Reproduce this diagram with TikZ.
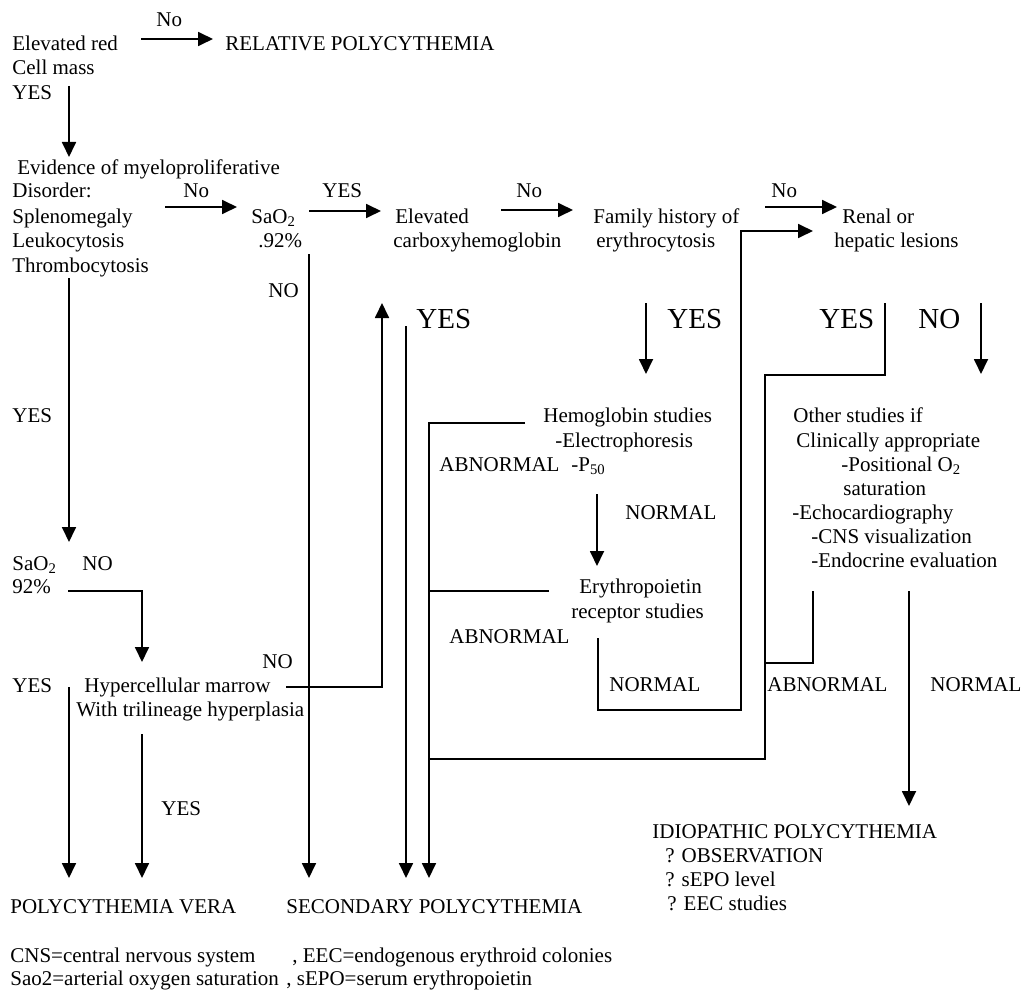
\documentclass[tikz,border=0pt]{standalone}
\usepackage{fontspec}
\setmainfont{Liberation Serif}
\usetikzlibrary{arrows.meta}
\begin{document}
\begin{tikzpicture}[x=0.5pt,y=-0.5pt,
  t/.style={anchor=base west, inner sep=0pt, font=\fontsize{10.5}{12}\selectfont},
  big/.style={anchor=base west, inner sep=0pt, font=\fontsize{14.5}{17}\selectfont},
  ln/.style={line width=0.9pt},
  ar/.style={line width=0.9pt, -{Triangle[length=7.5pt,width=7pt]}}]
\useasboundingbox (0,0) rectangle (1023,990);
% ---------- texts ----------
\node[t] (no1) at (156,27) {No};
\node[t] (erc1) at (12,51) {Elevated red};
\node[t] (erc2) at (12,75) {Cell mass};
\node[t] (yes1) at (12,100) {YES};
\node[t] (rel) at (225,51) {RELATIVE POLYCYTHEMIA};
\node[t] (ev1) at (17,175) {Evidence of myeloproliferative};
\node[t] (ev2) at (12,198) {Disorder:};
\node[t] (ev3) at (12,223) {Splenomegaly};
\node[t] (ev4) at (12,247) {Leukocytosis};
\node[t] (ev5) at (12,272) {Thrombocytosis};
\node[t] (no2) at (183,198) {No};
\node[t] (sa1) at (251,223) {SaO\textsubscript{2}};
\node[t] (sa2) at (258,247) {.92\%};
\node[t] (yes2) at (322,198) {YES};
\node[t] (co1) at (395,223) {Elevated};
\node[t] (co2) at (393,247) {carboxyhemoglobin};
\node[t] (no3) at (516,198) {No};
\node[t] (fh1) at (593,223) {Family history of};
\node[t] (fh2) at (596,247) {erythrocytosis};
\node[t] (no4) at (771,198) {No};
\node[t] (rh1) at (842,223) {Renal or};
\node[t] (rh2) at (834,247) {hepatic lesions};
\node[t] (no5) at (268,297) {NO};
\node[big] (yes3) at (416,328) {YES};
\node[big] (yes4) at (667,328) {YES};
\node[big] (yes5) at (819,328) {YES};
\node[big] (no6) at (918,328) {NO};
\node[t] (yes6) at (12,422) {YES};
\node[t] (hb1) at (543,422) {Hemoglobin studies};
\node[t] (hb2) at (555,447) {-Electrophoresis};
\node[t] (ab1) at (439,471) {ABNORMAL};
\node[t] (hb3) at (571,471) {-P\textsubscript{50}};
\node[t] (nm1) at (625,519) {NORMAL};
\node[t] (ep1) at (579,593) {Erythropoietin};
\node[t] (ep2) at (571,618) {receptor studies};
\node[t] (ab2) at (449,643) {ABNORMAL};
\node[t] (nm2) at (609,691) {NORMAL};
\node[t] (os1) at (793,422) {Other studies if};
\node[t] (os2) at (796,447) {Clinically appropriate};
\node[t] (os3) at (841,471) {-Positional O\textsubscript{2}};
\node[t] (os4) at (843,495) {saturation};
\node[t] (os5) at (792,519) {-Echocardiography};
\node[t] (os6) at (811,543) {-CNS visualization};
\node[t] (os7) at (811,567) {-Endocrine evaluation};
\node[t] (ab3) at (767,691) {ABNORMAL};
\node[t] (nm3) at (930,691) {NORMAL};
\node[t] (sa3) at (12,570) {SaO\textsubscript{2}};
\node[t] (no7) at (82,570) {NO};
\node[t] (sa4) at (12,593) {92\%};
\node[t] (no8) at (262,668) {NO};
\node[t] (yes7) at (12,692) {YES};
\node[t] (hc1) at (84,692) {Hypercellular marrow};
\node[t] (hc2) at (76,716) {With trilineage hyperplasia};
\node[t] (yes8) at (161,815) {YES};
\node[t] (pv) at (10,913) {POLYCYTHEMIA VERA};
\node[t] (sp) at (286,913) {SECONDARY POLYCYTHEMIA};
\node[t] (ip1) at (652,838) {IDIOPATHIC POLYCYTHEMIA};
\node[t] (ip2) at (665,862) {? OBSERVATION};
\node[t] (ip3) at (665,886) {? sEPO level};
\node[t] (ip4) at (667,910) {? EEC studies};
\node[t] (fn1) at (10,962) {CNS=central nervous system};
\node[t] (fn2) at (292,962) {, EEC=endogenous erythroid colonies};
\node[t] (fn3) at (10,985) {Sao2=arterial oxygen saturation};
\node[t] (fn4) at (286,985) {, sEPO=serum erythropoietin};
% ---------- connector points ----------
\coordinate (c1a) at (141,39);  \coordinate (c1b) at (213,39);
\coordinate (c2a) at (69,86);   \coordinate (c2b) at (69,157);
\coordinate (c3a) at (165,207); \coordinate (c3b) at (237,207);
\coordinate (c4a) at (309,211); \coordinate (c4b) at (381,211);
\coordinate (c5a) at (501,210); \coordinate (c5b) at (573,210);
\coordinate (c6a) at (765,207); \coordinate (c6b) at (837,207);
\coordinate (e1) at (598,638); \coordinate (e2) at (598,710);
\coordinate (e3) at (741,710); \coordinate (e4) at (741,231); \coordinate (e5) at (813,231);
\coordinate (f1) at (646,303); \coordinate (f2) at (646,374);
\coordinate (r1) at (885,303); \coordinate (r2) at (885,375);
\coordinate (r3) at (765,375); \coordinate (r4) at (765,759); \coordinate (r5) at (429,759);
\coordinate (o1) at (813,591); \coordinate (o2) at (813,663); \coordinate (o3) at (765,663);
\coordinate (n1) at (981,303); \coordinate (n2) at (981,374);
\coordinate (m1) at (909,591); \coordinate (m2) at (909,806);
\coordinate (h1) at (525,423); \coordinate (h2) at (429,423); \coordinate (h3) at (429,878);
\coordinate (h4) at (549,591); \coordinate (h5) at (429,591);
\coordinate (p1) at (597,494); \coordinate (p2) at (597,566);
\coordinate (k1) at (406,326); \coordinate (k2) at (406,878);
\coordinate (s1) at (309,254); \coordinate (s2) at (309,878);
\coordinate (u1) at (286,687); \coordinate (u2) at (382,687); \coordinate (u3) at (382,303);
\coordinate (v1) at (69,278); \coordinate (v2) at (69,542);
\coordinate (w1) at (68,591); \coordinate (w2) at (142,591); \coordinate (w3) at (142,662);
\coordinate (y1) at (69,687); \coordinate (y2) at (69,878);
\coordinate (z1) at (142,734); \coordinate (z2) at (142,878);
% ---------- connectors ----------
\draw[ar] (c1a) -- (c1b);
\draw[ar] (c2a) -- (c2b);
\draw[ar] (c3a) -- (c3b);
\draw[ar] (c4a) -- (c4b);
\draw[ar] (c5a) -- (c5b);
\draw[ar] (c6a) -- (c6b);
\draw[ar] (e1) -- (e2) -- (e3) -- (e4) -- (e5);
\draw[ar] (f1) -- (f2);
\draw[ln] (r1) -- (r2) -- (r3) -- (r4) -- (r5);
\draw[ln] (o1) -- (o2) -- (o3);
\draw[ar] (n1) -- (n2);
\draw[ar] (m1) -- (m2);
\draw[ar] (h1) -- (h2) -- (h3);
\draw[ln] (h4) -- (h5);
\draw[ar] (p1) -- (p2);
\draw[ar] (k1) -- (k2);
\draw[ar] (s1) -- (s2);
\draw[ar] (u1) -- (u2) -- (u3);
\draw[ar] (v1) -- (v2);
\draw[ar] (w1) -- (w2) -- (w3);
\draw[ar] (y1) -- (y2);
\draw[ar] (z1) -- (z2);
\end{tikzpicture}
\end{document}
